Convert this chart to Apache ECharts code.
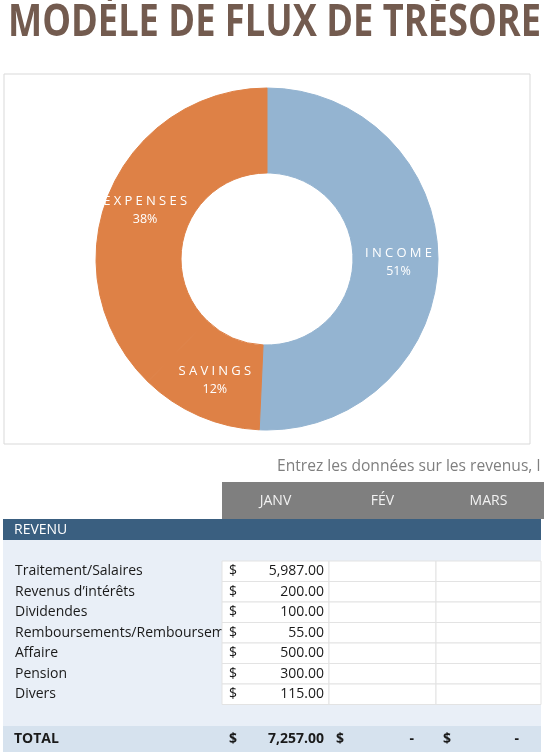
<!DOCTYPE html>
<html>
<head>
<meta charset="utf-8">
<script src="https://cdn.jsdelivr.net/npm/echarts@6/dist/echarts.min.js"></script>
<style>
html,body{margin:0;padding:0;background:#fff;}
#chart{width:544px;height:752px;}
</style>
</head>
<body>
<div id="chart"></div>
<script>
// ---- data ----
const titleText = 'MODÈLE DE FLUX DE TRÉSORE';
const subtitleText = 'Entrez les données sur les revenus, l';
const sliceNames = ['INCOME', 'SAVINGS', 'EXPENSES'];
const sliceValues = [7257, 1650, 5400];
const sliceColors = ['#94B4D1', '#DE8146', '#DE8146'];
const months = ['JANV', 'FÉV', 'MARS'];
const sectionLabel = 'REVENU';
const rowLabels = ['Traitement/Salaires', 'Revenus d’intérêts', 'Dividendes', 'Remboursements/Remboursements', 'Affaire', 'Pension', 'Divers'];
const janValues = [5987, 200, 100, 55, 500, 300, 115];
const febValues = [null, null, null, null, null, null, null];
const marValues = [null, null, null, null, null, null, null];
const totalLabel = 'TOTAL';

// ---- layout ----
const FONT = '"Open Sans", "Noto Sans", sans-serif';
const colX = [222, 329, 436];
const colW = [107, 107, 105];
const rowTop = 561, rowH = 20.5;
const sliceTotal = sliceValues.reduce((a, b) => a + b, 0);
const monthCols = [janValues, febValues, marValues];
const totals = monthCols.map(col => col.reduce((a, b) => a + (b || 0), 0));
const fmt = v => v.toLocaleString('en-US', {minimumFractionDigits: 2, maximumFractionDigits: 2});

// title width fit (condensed look of the reference)
const titleFont = 'bold 44px ' + FONT;
const mctx = document.createElement('canvas').getContext('2d');
mctx.font = titleFont;
const titleScale = 533 / mctx.measureText(titleText).width;

const g = [];
g.push({type: 'text', x: 8, y: 1, scaleX: titleScale, originX: 0, style: {text: titleText, fill: '#735B4F', font: titleFont, verticalAlign: 'top'}});
// chart box
g.push({type: 'rect', shape: {x: 4, y: 74, width: 526, height: 370}, style: {fill: 'none', stroke: '#D9D9D9', lineWidth: 1}, z: 1});
// subtitle
g.push({type: 'text', x: 277, y: 467, style: {text: subtitleText, fill: '#7F7F7F', font: '15.6px ' + FONT, verticalAlign: 'middle'}});
// header
g.push({type: 'rect', shape: {x: 222, y: 482, width: 322, height: 37}, style: {fill: '#7F7F7F'}});
months.forEach((m, i) => {
  g.push({type: 'text', x: colX[i] + colW[i] / 2, y: 501, style: {text: m, fill: '#F2F2F2', font: '14px ' + FONT, align: 'center', verticalAlign: 'middle'}});
});
// section band
g.push({type: 'rect', shape: {x: 3, y: 519, width: 538, height: 21}, style: {fill: '#3A5F80'}});
g.push({type: 'text', x: 14, y: 530, style: {text: sectionLabel, fill: '#FFFFFF', font: '14px ' + FONT, verticalAlign: 'middle'}});
// body background
g.push({type: 'rect', shape: {x: 3, y: 540, width: 538, height: 186}, style: {fill: '#E9EFF7'}, z: 0});
// rows
rowLabels.forEach((lab, r) => {
  const cy = rowTop + r * rowH + rowH / 2;
  g.push({type: 'text', x: 15, y: cy, z: 2, style: {text: lab, fill: '#1A1A1A', font: '14px ' + FONT, verticalAlign: 'middle'}});
  monthCols.forEach((col, c) => {
    g.push({type: 'rect', z: 3, shape: {x: colX[c], y: rowTop + r * rowH, width: colW[c], height: rowH}, style: {fill: '#FFFFFF', stroke: '#E3E3E3', lineWidth: 1}});
    const v = col[r];
    if (v !== null && v !== undefined) {
      g.push({type: 'text', z: 4, x: colX[c] + 7, y: cy, style: {text: '$', fill: '#1A1A1A', font: '14px ' + FONT, verticalAlign: 'middle'}});
      g.push({type: 'text', z: 4, x: colX[c] + colW[c] - 5, y: cy, style: {text: fmt(v), fill: '#1A1A1A', font: '14px ' + FONT, align: 'right', verticalAlign: 'middle'}});
    }
  });
});
// total band
g.push({type: 'rect', shape: {x: 3, y: 726, width: 538, height: 26}, style: {fill: '#D6E2EE'}});
g.push({type: 'text', x: 14, y: 739, style: {text: totalLabel, fill: '#1A1A1A', font: 'bold 14px ' + FONT, verticalAlign: 'middle'}});
totals.forEach((t, c) => {
  g.push({type: 'text', x: colX[c] + 7, y: 739, style: {text: '$', fill: '#1A1A1A', font: 'bold 14px ' + FONT, verticalAlign: 'middle'}});
  g.push({type: 'text', x: colX[c] + colW[c] - (t ? 5 : 22), y: 739, style: {text: t ? fmt(t) : '-', fill: '#1A1A1A', font: 'bold 14px ' + FONT, align: 'right', verticalAlign: 'middle'}});
});

const chart = echarts.init(document.getElementById('chart'), null, {renderer: 'canvas', width: 544, height: 752});
chart.setOption({
  animation: false,
  backgroundColor: '#FFFFFF',
  graphic: {elements: g},
  series: [{
    type: 'pie',
    center: [267, 259],
    radius: [86, 171],
    startAngle: 90,
    clockwise: true,
    avoidLabelOverlap: false,
    z: 3,
    data: sliceNames.map((n, i) => ({name: n, value: sliceValues[i], itemStyle: {color: sliceColors[i], borderColor: sliceColors[i], borderWidth: 1}})),
    label: {
      position: 'inside',
      formatter: p => '{n|' + p.name.split('').join('\u2005') + '}\n{p|' + Math.round(p.value / sliceTotal * 100) + '%}',
      rich: {
        n: {fontFamily: FONT, fontSize: 13, color: '#FFFFFF', lineHeight: 19, align: 'center'},
        p: {fontFamily: FONT, fontSize: 12.5, color: '#FFFFFF', lineHeight: 17, align: 'center'}
      }
    },
    labelLine: {show: false},
    emphasis: {disabled: true}
  }]
});
</script>
</body>
</html>
